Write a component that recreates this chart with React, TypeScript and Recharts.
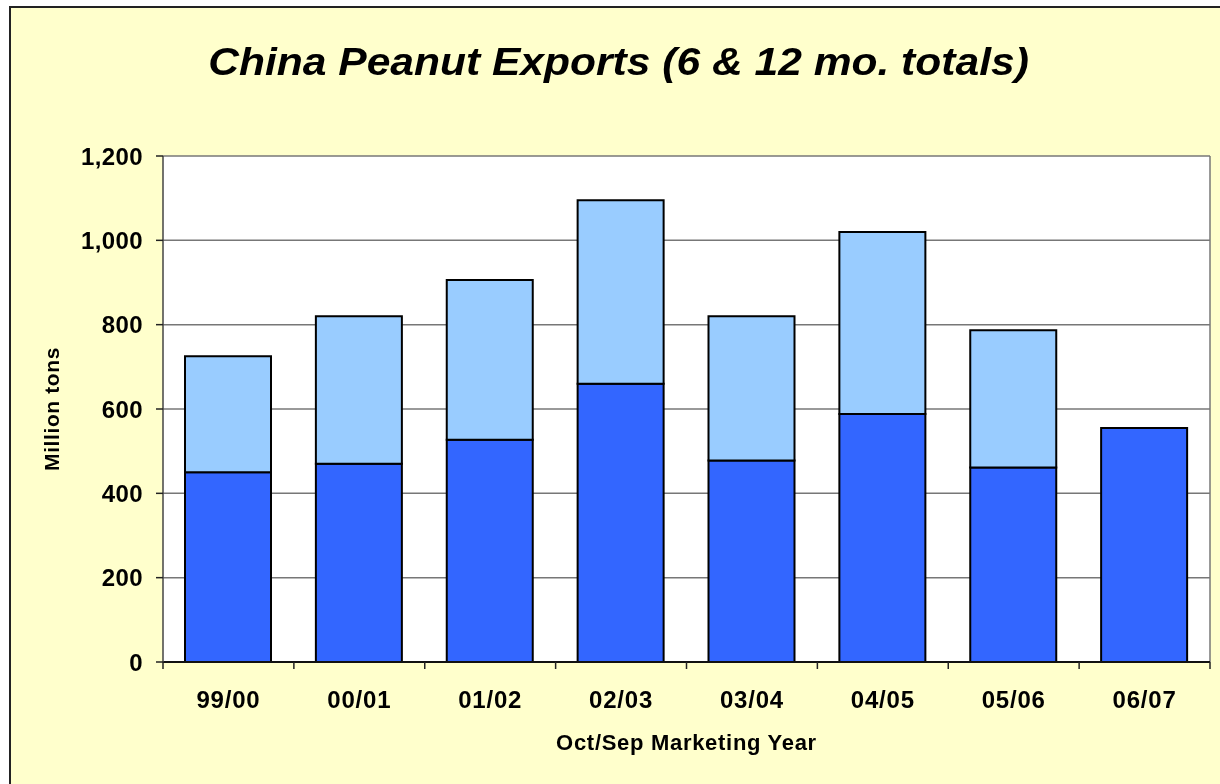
import {
  BarChart,
  Bar,
  XAxis,
  YAxis,
  CartesianGrid,
} from "recharts";

const years = ["99/00", "00/01", "01/02", "02/03", "03/04", "04/05", "05/06", "06/07"];
// first 6 months of the marketing year
const sixMonth = [450, 470, 527, 660, 478, 588, 461, 555];
// full 12 month totals (06/07 not finished yet)
const twelveMonth = [725, 820, 906, 1095, 820, 1020, 787, null];
const yTicks = [0, 200, 400, 600, 800, 1000, 1200];

const data = years.map((year, i) => ({
  year,
  six: sixMonth[i],
  rest: twelveMonth[i] == null ? 0 : (twelveMonth[i] as number) - sixMonth[i],
}));

const FONT = "'Liberation Sans', Arial, sans-serif";
const TICK_SIZE = 8;
const TICK_MARGIN = 21;

// category label plus the little tick marks between categories (Excel style)
function YearTick(props: any) {
  const { x, y, width, visibleTicksCount, index, payload } = props;
  const band = width / visibleTicksCount;
  const axisY = y - TICK_SIZE - TICK_MARGIN;
  const left = x - band / 2;
  return (
    <g>
      <line x1={left} x2={left} y1={axisY} y2={axisY + 7} stroke="#222" strokeWidth={1.5} />
      {index === visibleTicksCount - 1 && (
        <line x1={left + band} x2={left + band} y1={axisY} y2={axisY + 7} stroke="#222" strokeWidth={1.5} />
      )}
      <text
        x={x}
        y={y}
        dy="0.71em"
        textAnchor="middle"
        fill="#000"
        fontSize={24}
        fontWeight="bold"
        letterSpacing={0.8}
        fontFamily={FONT}
      >
        {payload.value}
      </text>
    </g>
  );
}

export default function App() {
  return (
    <div
      style={{
        position: "fixed",
        left: 0,
        top: 0,
        width: 1220,
        height: 784,
        overflow: "hidden",
        fontFamily: FONT,
      }}
    >
      <div
        style={{
          position: "absolute",
          left: 9,
          top: 6,
          width: 1240,
          height: 820,
          border: "2px solid #222",
          background: "#FFFFCC",
        }}
      />
      <div
        style={{
          position: "absolute",
          left: 0,
          width: 1237,
          top: 37,
          textAlign: "center",
          fontSize: 38,
          fontWeight: "bold",
          fontStyle: "italic",
          lineHeight: "50px",
          transform: "scaleX(1.12)",
        }}
      >
        China Peanut Exports (6 &amp; 12 mo. totals)
      </div>
      <div style={{ position: "absolute", left: 0, top: 0 }}>
        <BarChart
          width={1220}
          height={784}
          data={data}
          margin={{ top: 156, right: 10, left: 0, bottom: 0 }}
          style={{ fontFamily: FONT }}
        >
          <CartesianGrid
            verticalPoints={[1210]}
            fill="#FFFFFF"
            stroke="#777"
            strokeWidth={1.5}
          />
          <XAxis
            dataKey="year"
            height={122}
            tickLine={false}
            tickSize={TICK_SIZE}
            tickMargin={TICK_MARGIN}
            axisLine={{ stroke: "#111", strokeWidth: 2 }}
            tick={<YearTick />}
            interval={0}
          />
          <YAxis
            width={163}
            domain={[0, 1200]}
            ticks={yTicks}
            tickFormatter={(v: number) => v.toLocaleString("en-US")}
            tickSize={7}
            tickMargin={13}
            axisLine={{ stroke: "#444", strokeWidth: 1.5 }}
            tickLine={{ stroke: "#222", strokeWidth: 1.5 }}
            tick={{ fill: "#000", fontSize: 24, fontWeight: "bold", letterSpacing: 0.4 }}
          />
          <Bar
            dataKey="six"
            stackId="a"
            fill="#3366FF"
            stroke="#000"
            strokeWidth={2}
            barSize={86}
            isAnimationActive={false}
          />
          <Bar
            dataKey="rest"
            stackId="a"
            fill="#99CCFF"
            stroke="#000"
            strokeWidth={2}
            barSize={86}
            isAnimationActive={false}
          />
        </BarChart>
      </div>
      <div
        style={{
          position: "absolute",
          left: 163,
          width: 1047,
          top: 730,
          textAlign: "center",
          fontSize: 22,
          fontWeight: "bold",
          lineHeight: "26px",
          letterSpacing: 0.7,
        }}
      >
        Oct/Sep Marketing Year
      </div>
      <div
        style={{
          position: "absolute",
          left: 52,
          top: 409,
          transform: "translate(-50%, -50%) rotate(-90deg)",
          fontSize: 21,
          fontWeight: "bold",
          whiteSpace: "nowrap",
          lineHeight: "24px",
          letterSpacing: 0.6,
        }}
      >
        Million tons
      </div>
    </div>
  );
}
